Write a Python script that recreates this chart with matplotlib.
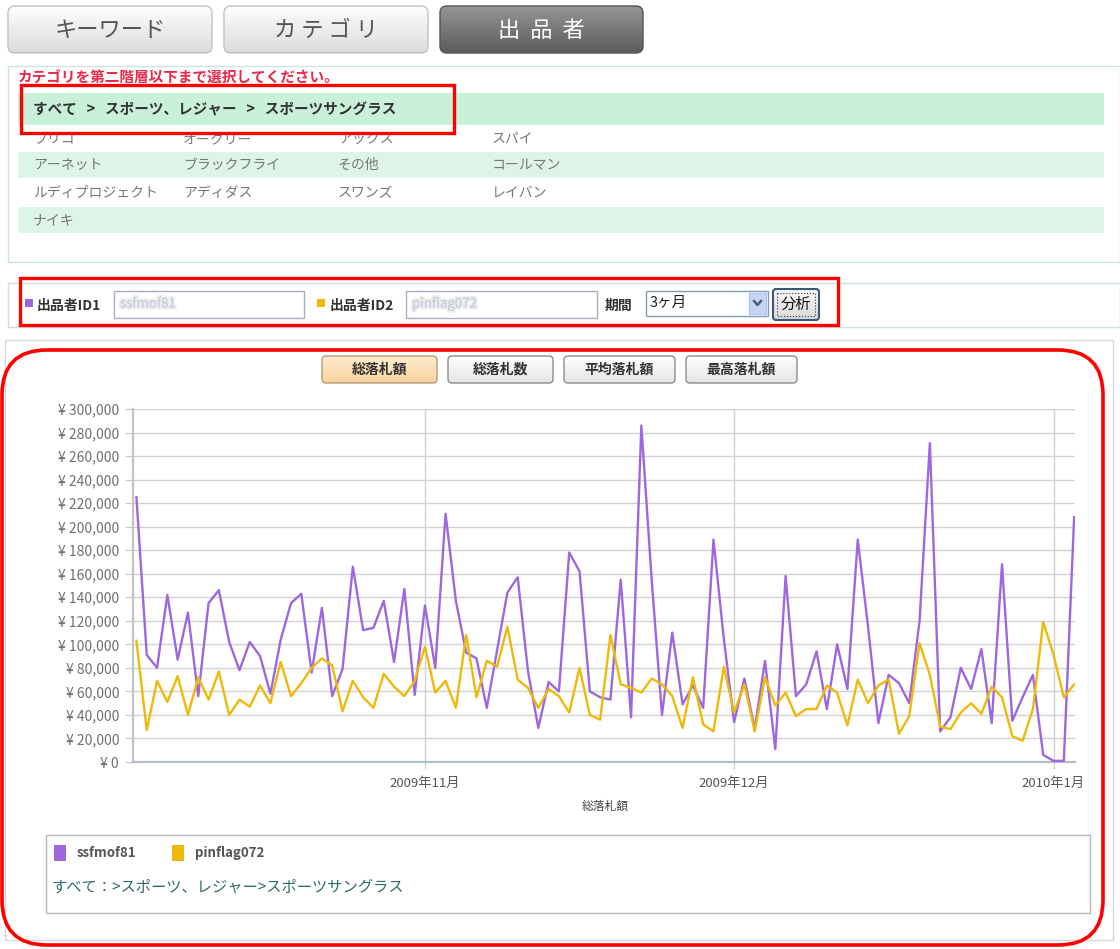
import numpy as np
import pandas as pd
import matplotlib
matplotlib.use("Agg")
import matplotlib.pyplot as plt
import matplotlib.patheffects as pe
from matplotlib.colors import to_rgb
from matplotlib.patches import FancyBboxPatch, Rectangle
from matplotlib.ticker import FuncFormatter

plt.rcParams['font.family'] = ['Noto Sans CJK JP', 'DejaVu Sans']

W, H = 1120, 949

# ---- data ----
dates = pd.date_range('2009-10-04', '2010-01-03', freq='D')
seller1 = 'ssfmof81'
seller2 = 'pinflag072'
# total winning bids per day (in thousands of yen)
seller1_k = [225, 91, 80, 142, 87, 127, 56, 135, 146, 102,
             78, 102, 90, 58, 104, 135, 143, 76, 131, 56,
             79, 166, 112, 114, 137, 85, 147, 57, 133, 80,
             211, 137, 93, 88, 46, 95, 144, 157, 77, 29,
             68, 60, 178, 162, 60, 55, 53, 155, 38, 286,
             155, 40, 110, 49, 65, 46, 189, 105, 34, 71,
             28, 86, 11, 158, 56, 66, 94, 45, 100, 62,
             189, 115, 33, 74, 67, 50, 120, 271, 26, 38,
             80, 62, 96, 33, 168, 35, 55, 74, 6, 1,
             1, 208]
seller2_k = [103, 27, 69, 51, 73, 40, 72, 53, 77, 40,
             53, 47, 65, 50, 85, 56, 67, 80, 88, 82,
             43, 69, 55, 46, 75, 64, 56, 69, 98, 59,
             69, 46, 108, 55, 86, 81, 115, 70, 63, 46,
             62, 56, 42, 80, 40, 36, 108, 66, 63, 59,
             71, 66, 56, 29, 72, 32, 26, 81, 42, 66,
             26, 72, 48, 59, 39, 45, 45, 65, 59, 31,
             70, 50, 65, 70, 24, 39, 101, 74, 30, 28,
             42, 50, 41, 64, 55, 22, 18, 45, 119, 91,
             55, 66]
month_ticks = ['2009-11-01', '2009-12-01', '2010-01-01']
month_labels = ['2009年11月', '2009年12月', '2010年1月']
y_ticks = list(range(0, 300001, 20000))

tabs = ['キーワード', 'カ テ ゴ リ', '出  品  者']
warning = 'カテゴリを第二階層以下まで選択してください。'
crumbs = ['すべて', 'スポーツ、レジャー', 'スポーツサングラス']
brands = [['ブリコ', 'オークリー', 'アックス', 'スパイ'],
          ['アーネット', 'ブラックフライ', 'その他', 'コールマン'],
          ['ルディプロジェクト', 'アディダス', 'スワンズ', 'レイバン'],
          ['ナイキ']]
metric_buttons = ['総落札額', '総落札数', '平均落札額', '最高落札額']
period = '3ヶ月'

PURPLE = '#9d68de'
YELLOW = '#eeb90a'
RED = '#ff0000'

fig = plt.figure(figsize=(W / 100, H / 100), dpi=100)
fig.patch.set_facecolor('white')

# canvas in pixel coordinates (y grows downward like the screenshot)
bg = fig.add_axes([0, 0, 1, 1])
bg.set_axis_off()
bg.set_autoscale_on(False)


def box(x0, y0, x1, y1, fc='none', ec='none', lw=1.0, r=0, z=1, **kw):
    if r > 0:
        p = FancyBboxPatch((x0, y0), x1 - x0, y1 - y0,
                           boxstyle=f'round,pad=0,rounding_size={r}',
                           fc=fc, ec=ec, lw=lw, zorder=z, **kw)
    else:
        p = Rectangle((x0, y0), x1 - x0, y1 - y0, fc=fc, ec=ec, lw=lw, zorder=z, **kw)
    bg.add_patch(p)
    return p


def grad_box(x0, y0, x1, y1, c_top, c_bot, ec, r=5, lw=1.0, z=2):
    p = box(x0, y0, x1, y1, fc='none', ec=ec, lw=lw, r=r, z=z + 0.1)
    t = np.linspace(0, 1, 64)[:, None, None]
    img = np.array(to_rgb(c_top)) * (1 - t) + np.array(to_rgb(c_bot)) * t
    im = bg.imshow(img, extent=(x0, x1, y1, y0), aspect='auto', zorder=z,
                   interpolation='bilinear')
    im.set_clip_path(p)
    return p


def txt(x, y, s, size=10, color='#333', ha='left', weight='normal', z=5, **kw):
    bg.text(x, y, s, fontsize=size, color=color, ha=ha, va='center',
            fontweight=weight, zorder=z, **kw)


# blurred-looking text for the masked seller ids
blur = [pe.withStroke(linewidth=3, foreground='#dfe2ea', alpha=0.6)]

# ---- top tabs ----
tab_x = [(8, 212), (224, 428), (440, 643)]
for i, (label, (x0, x1)) in enumerate(zip(tabs, tab_x)):
    if i == 2:
        grad_box(x0, 6, x1, 53, '#959595', '#5c5c5c', '#555555', r=7)
        txt((x0 + x1) / 2, 30, label, size=16, color='white', ha='center')
    else:
        grad_box(x0, 6, x1, 53, '#fdfdfd', '#dcdcdc', '#c2c2c2', r=7)
        txt((x0 + x1) / 2, 30, label, size=16, color='#555', ha='center')

# ---- category panel ----
box(8, 66, 1120, 262, fc='white', ec='#cfe5da', z=1)
txt(18, 78, warning, size=10.5, color='#e8294a', weight='bold')
box(18, 93, 1104, 125, fc='#c9f1da', z=1.5)
txt(33, 109, '   >   '.join(crumbs), size=10.5, color='#333', weight='bold')
row_y = [139, 165, 193, 220]
col_x = [33, 183, 338, 492]
for r_i, row in enumerate(brands):
    if r_i % 2 == 1:
        box(18, row_y[r_i] - 13, 1104, row_y[r_i] + 13, fc='#def4e8', z=1.5)
    for c_i, name in enumerate(row):
        txt(col_x[c_i], row_y[r_i], name, size=10, color='#777')
box(21, 85, 454, 133, ec=RED, lw=2.4, z=8)

# ---- seller input panel ----
box(8, 283, 1120, 327, fc='white', ec='#cfe0da', z=1)
box(25, 299, 33, 307, fc=PURPLE, z=3)
txt(37, 306, '出品者ID1', size=10, weight='bold')
box(114, 291, 304, 318, fc='white', ec='#a7afbf', z=3)
txt(120, 304, seller1, size=9.5, color='#c4c8d4', path_effects=blur)
box(317, 299, 325, 307, fc=YELLOW, z=3)
txt(330, 306, '出品者ID2', size=10, weight='bold')
box(406, 291, 597, 318, fc='white', ec='#a7afbf', z=3)
txt(412, 304, seller2, size=9.5, color='#c4c8d4', path_effects=blur)
txt(605, 306, '期間', size=10, weight='bold')
box(646, 291, 768, 316, fc='white', ec='#7f9db9', z=3)
txt(650, 303, period, size=10.5, color='#222')
box(749, 293, 766, 314, fc='#c6d5f4', ec='#b3c6ec', z=4)
bg.plot([754, 757.5, 761], [301, 305, 301], color='#4d6185', lw=1.8, zorder=5)
grad_box(773, 289, 819, 320, '#fafafa', '#d8d8d8', '#3a577c', r=3, lw=1.5, z=3)
box(777, 293, 815, 316, ec='#333', lw=0.8, ls=':', z=5)
txt(796, 304.5, '分析', size=11, color='#111', ha='center')
box(20, 278, 838, 325, ec=RED, lw=2.4, z=8)

# ---- chart panel ----
box(5, 340, 1113, 940, fc='white', ec='#d8d8d8', z=1)
btn_x = [(322, 437), (448, 553), (564, 675), (686, 797)]
for i, (label, (x0, x1)) in enumerate(zip(metric_buttons, btn_x)):
    if i == 0:
        grad_box(x0, 356, x1, 383, '#feebcd', '#f8d49e', '#b89a7a', r=4)
    else:
        grad_box(x0, 356, x1, 383, '#ffffff', '#e4e4e4', '#8c8c8c', r=4)
    txt((x0 + x1) / 2, 369.5, label, size=10, weight='bold', ha='center')

txt(605, 806, metric_buttons[0], size=8.5, color='#444', ha='center')

# legend box
box(46, 835, 1090, 913, fc='white', ec='#b8b8b8', z=2)
box(54, 845, 66, 861, fc=PURPLE, z=3)
txt(77, 853, seller1, size=9.5, color='#555', weight='bold')
box(172, 845, 184, 861, fc=YELLOW, z=3)
txt(195, 853, seller2, size=9.5, color='#555', weight='bold')
txt(52, 887, 'すべて：>' + '>'.join(crumbs[1:]), size=11, color='#2d6b68')

box(2, 350, 1103, 945, ec=RED, lw=2.6, r=45, z=9)

bg.set_xlim(0, W)
bg.set_ylim(H, 0)

# ---- line chart ----
ax = fig.add_axes([133 / W, 1 - 762 / H, (1075 - 133) / W, (762 - 409) / H])
ax.set_facecolor('none')
ax.plot(dates, np.array(seller1_k) * 1000, color=PURPLE, lw=1.7, zorder=3)
ax.plot(dates, np.array(seller2_k) * 1000, color=YELLOW, lw=1.7, zorder=4)
ax.set_ylim(0, 300000)
ax.set_xlim(dates[0] - pd.Timedelta(hours=8), dates[-1] + pd.Timedelta(hours=2))
ax.set_yticks(y_ticks)
ax.yaxis.set_major_formatter(FuncFormatter(lambda v, _: f'¥ {int(v):,}'))
ax.set_xticks(pd.to_datetime(month_ticks))
ax.set_xticklabels(month_labels)
ax.grid(True, color='#d2d2d2', lw=1)
ax.set_axisbelow(True)
for s in ('top', 'right'):
    ax.spines[s].set_visible(False)
ax.spines['left'].set_color('#c4c4c4')
ax.spines['left'].set_linewidth(1.6)
ax.spines['bottom'].set_color('#b4bccb')
ax.spines['bottom'].set_linewidth(1.6)
ax.tick_params(axis='y', length=6, color='#c8c8c8', labelsize=10,
               labelcolor='#707070', pad=4)
ax.tick_params(axis='x', length=5, color='#cccccc', labelsize=9.5,
               labelcolor='#555', pad=6)

fig.savefig('out.png', dpi=100, facecolor='white')
